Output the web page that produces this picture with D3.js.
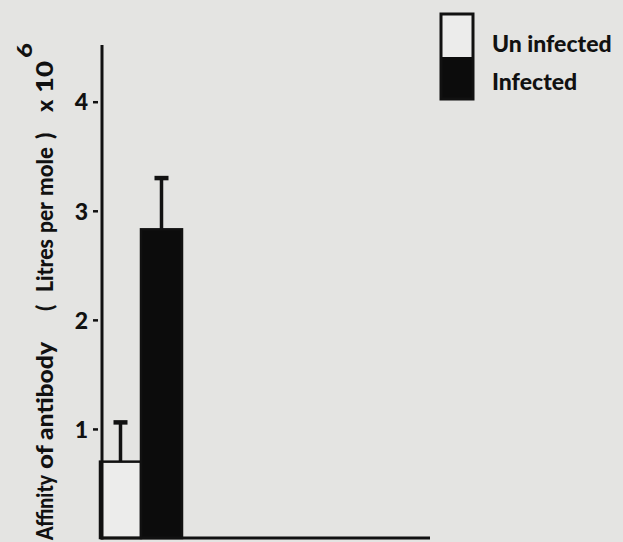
<!DOCTYPE html>
<html>
<head>
<meta charset="utf-8">
<script src="https://cdn.jsdelivr.net/npm/d3@7"></script>
<style>
  html, body { margin: 0; padding: 0; background: #e4e4e2; }
  svg { display: block; }
  text { font-family: Lato, "DejaVu Sans", sans-serif; font-weight: 900; fill: #111; }
</style>
</head>
<body>
<script>
// Antibody affinity in uninfected vs infected groups (mean with upper error bar)
const categories = ["Un infected", "Infected"];
const meanAffinity = [0.70, 2.83];
const errorUpper = [0.36, 0.47];
const tickValues = [1, 2, 3, 4];
const tickLabels = ["1", "2", "3", "4"];
const barFills = ["#ececeb", "#0c0c0c"];

// axis title words: offset along the rotated baseline and set width (0 = natural)
const titleWords = ["Affinity", "of", "antibody", "(", "Litres", "per", "mole", ")", "x", "10"];
const titleOffsets = [0, 71, 100, 229, 248, 307, 344, 401, 428, 447];
const titleWidths = [65, 24, 98, 0, 53, 31, 49, 0, 0, 32];

const W = 623, H = 542;
const svg = d3.select("body").append("svg")
  .attr("width", W).attr("height", H);

svg.append("rect").attr("width", W).attr("height", H).attr("fill", "#e4e4e2");

const axisX = 102, baseY = 538;

const y = d3.scaleLinear().domain([0, 4.52]).range([baseY, 45]);
const x = d3.scaleBand().domain(categories).range([100, 182]).paddingInner(0).paddingOuter(0);

const data = categories.map((c, i) => ({ c, v: meanAffinity[i], e: errorUpper[i], fill: barFills[i] }));

// bars
const g = svg.append("g");
g.selectAll("rect.bar").data(data).join("rect")
  .attr("class", "bar")
  .attr("x", d => x(d.c))
  .attr("width", x.bandwidth())
  .attr("y", d => y(d.v))
  .attr("height", d => baseY - y(d.v))
  .attr("fill", d => d.fill)
  .attr("stroke", "#111")
  .attr("stroke-width", 2.5);

// error bars: stem and cap
g.selectAll("line.stem").data(data).join("line")
  .attr("class", "stem")
  .attr("x1", d => x(d.c) + x.bandwidth() / 2)
  .attr("x2", d => x(d.c) + x.bandwidth() / 2)
  .attr("y1", d => y(d.v))
  .attr("y2", d => y(d.v + d.e))
  .attr("stroke", "#111").attr("stroke-width", 3.5);

g.selectAll("line.cap").data(data).join("line")
  .attr("class", "cap")
  .attr("x1", d => x(d.c) + x.bandwidth() / 2 - 7)
  .attr("x2", d => x(d.c) + x.bandwidth() / 2 + 7)
  .attr("y1", d => y(d.v + d.e))
  .attr("y2", d => y(d.v + d.e))
  .attr("stroke", "#111").attr("stroke-width", 4.5);

// y axis
const yAxis = d3.axisLeft(y).tickValues(tickValues)
  .tickFormat((d, i) => tickLabels[i]).tickSizeOuter(0);
const ya = svg.append("g").attr("transform", `translate(${axisX},0)`).call(yAxis);
ya.select(".domain").remove();
ya.selectAll(".tick line").attr("x1", -9).attr("x2", -4)
  .attr("stroke", "#111").attr("stroke-width", 2.5);
ya.selectAll(".tick text").attr("x", -14).attr("dy", "0.36em")
  .style("font-size", "23px").style("font-family", "Lato, sans-serif").style("font-weight", 900)
  .attr("fill", "#111");

svg.append("line").attr("x1", axisX).attr("x2", axisX)
  .attr("y1", 45).attr("y2", baseY + 1.5)
  .attr("stroke", "#111").attr("stroke-width", 3);

// x axis baseline
svg.append("line").attr("x1", axisX - 1.5).attr("x2", 430)
  .attr("y1", baseY).attr("y2", baseY)
  .attr("stroke", "#111").attr("stroke-width", 3);

// y axis title, reading bottom to top
const yt = svg.append("text")
  .attr("transform", "translate(53,540) rotate(-90)")
  .attr("text-anchor", "start")
  .style("font-size", "23px");
titleWords.forEach((w, i) => {
  const t = yt.append("tspan").attr("x", titleOffsets[i]).attr("y", 0).text(w);
  if (titleWidths[i] > 0) {
    t.attr("textLength", titleWidths[i]).attr("lengthAdjust", "spacingAndGlyphs");
  }
});
yt.append("tspan").attr("x", 482).attr("y", -21).style("font-size", "21px")
  .attr("textLength", 15).attr("lengthAdjust", "spacingAndGlyphs").text("6");

// legend
const leg = svg.append("g").attr("transform", "translate(441,14)");
leg.append("rect").attr("x", 0).attr("y", 0).attr("width", 32).attr("height", 43)
  .attr("fill", barFills[0]);
leg.append("rect").attr("x", 0).attr("y", 43).attr("width", 32).attr("height", 42)
  .attr("fill", barFills[1]);
leg.append("rect").attr("x", 0).attr("y", 0).attr("width", 32).attr("height", 85)
  .attr("fill", "none").attr("stroke", "#111").attr("stroke-width", 3);
leg.selectAll("text.lbl").data(categories).join("text")
  .attr("class", "lbl")
  .attr("x", 51)
  .attr("y", (d, i) => 38 + i * 38)
  .style("font-size", "23px")
  .text(d => d);
</script>
</body>
</html>
